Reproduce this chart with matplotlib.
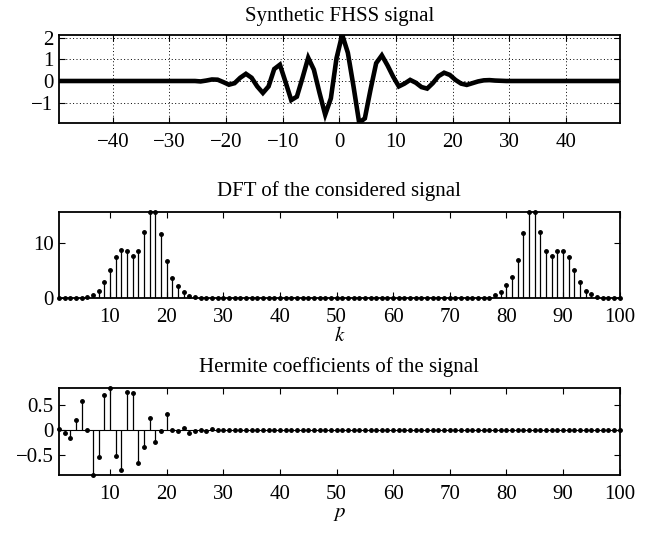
import numpy as np
import matplotlib
matplotlib.use("Agg")
import matplotlib.pyplot as plt

plt.rcParams['font.family'] = ['Liberation Serif', 'DejaVu Serif']
plt.rcParams['mathtext.fontset'] = 'stix'

# ---- data ----
t = np.arange(-49.5, 50.0, 1.0)
signal_nonzero = {
    -24.5: -0.02, -23.5: 0.02, -22.5: 0.07, -21.5: 0.06, -20.5: -0.05,
    -19.5: -0.17, -18.5: -0.10, -17.5: 0.15, -16.5: 0.33, -15.5: 0.15,
    -14.5: -0.25, -13.5: -0.55, -12.5: -0.25, -11.5: 0.55, -10.5: 0.75,
    -9.5: -0.05, -8.5: -0.88, -7.5: -0.72, -6.5: 0.15, -5.5: 1.07,
    -4.5: 0.52, -3.5: -0.55, -2.5: -1.55, -1.5: -0.80, -0.5: 1.05,
    0.5: 2.13, 1.5: 1.30, 2.5: -0.25, 3.5: -1.92, 4.5: -1.72,
    5.5: -0.40, 6.5: 0.82, 7.5: 1.18, 8.5: 0.72, 9.5: 0.20,
    10.5: -0.25, 11.5: -0.12, 12.5: 0.05, 13.5: -0.08, 14.5: -0.28,
    15.5: -0.35, 16.5: -0.10, 17.5: 0.22, 18.5: 0.38, 19.5: 0.28,
    20.5: 0.05, 21.5: -0.12, 22.5: -0.18, 23.5: -0.10, 24.5: -0.02,
    25.5: 0.03, 26.5: 0.04, 27.5: 0.02, 28.5: 0.01,
}
signal = np.array([signal_nonzero.get(float(v), 0.0) for v in t])

k = np.arange(1, 101)
dft_low = [0, 0, 0, 0, 0, 0.2, 0.5, 1.3, 2.85, 5.1, 7.3, 8.6, 8.4, 7.5, 8.5,
           11.9, 15.6, 15.6, 11.6, 6.7, 3.6, 2.1, 1.0, 0.4, 0.1]
dft_high = [0.5, 1.1, 2.3, 3.7, 6.8, 11.7, 15.6, 15.6, 11.9, 8.5, 7.6, 8.4,
            8.5, 7.4, 5.1, 2.8, 1.3, 0.6, 0.2]   # k = 78..96
dft = np.zeros(100)
dft[:len(dft_low)] = dft_low
dft[77:77 + len(dft_high)] = dft_high

p = np.arange(1, 101)
herm_first = [0.01, -0.07, -0.17, 0.20, 0.57, -0.005, -0.894, -0.55, 0.69, 0.846,
              -0.53, -0.81, 0.75, 0.73, -0.67, -0.35, 0.24, -0.24, -0.03, 0.31,
              -0.01, -0.03, 0.04, -0.07, -0.02, 0.0, -0.02, 0.01]
herm = np.zeros(100)
herm[:len(herm_first)] = herm_first

titles = ["Synthetic FHSS signal", "DFT of the considered signal",
          "Hermite coefficients of the signal"]
FS = 15

fig = plt.figure(figsize=(6.55, 5.34), dpi=100)
ax1 = fig.add_axes([0.0901, 0.7702, 0.856, 0.1648])
ax2 = fig.add_axes([0.0901, 0.4425, 0.856, 0.1610])
ax3 = fig.add_axes([0.0901, 0.1111, 0.856, 0.1629])

def style(ax):
    ax.tick_params(direction='in', length=4, width=0.8, top=True, right=True,
                   labelsize=FS)
    ax.tick_params(axis='x', pad=7.5)
    ax.tick_params(axis='y', pad=4)
    for s in ax.spines.values():
        s.set_linewidth(1.3)

# top
ax1.plot(t, signal, color='k', lw=3.3, solid_joinstyle='miter')
ax1.set_xlim(-49.5, 49.5)
ax1.set_ylim(signal.min(), signal.max())
ax1.set_xticks(np.arange(-40, 41, 10))
ax1.set_yticks([-1, 0, 1, 2])
ax1.grid(True, linestyle=(0, (1, 2.5)), color='k', lw=0.7)
style(ax1)
ax1.set_title(titles[0], fontsize=FS, pad=10)

def stem(ax, x, y):
    ml, sl, bl = ax.stem(x, y, linefmt='k-', markerfmt='k.', basefmt='k-')
    ml.set_markersize(5)
    ml.set_clip_on(False)
    sl.set_linewidth(0.9)
    bl.set_linewidth(0.8)
    return ml

stem(ax2, k, dft)
ax2.set_xlim(1, 100)
ax2.set_ylim(0, dft.max())
ax2.set_xticks(np.arange(10, 101, 10))
ax2.set_yticks([0, 10])
style(ax2)
ax2.set_title(titles[1], fontsize=FS, pad=11)
ax2.set_xlabel('$k$', fontsize=FS, labelpad=0)

stem(ax3, p, herm)
ax3.set_xlim(1, 100)
ax3.set_ylim(herm.min(), herm.max())
ax3.set_xticks(np.arange(10, 101, 10))
ax3.set_yticks([-0.5, 0, 0.5])
ax3.set_yticklabels(['\u22120.5', '0', '0.5'])
style(ax3)
ax3.set_title(titles[2], fontsize=FS, pad=11)
ax3.set_xlabel('$p$', fontsize=FS, labelpad=0)

fig.savefig('out.png', dpi=100)
